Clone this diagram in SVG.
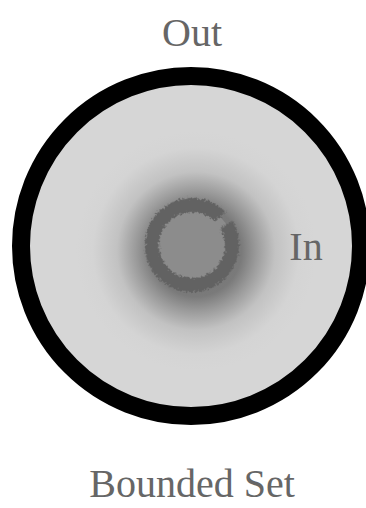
<svg xmlns="http://www.w3.org/2000/svg" width="366" height="508" viewBox="0 0 366 508">
<style>
.lbl{font-family:"Liberation Serif","Times New Roman",serif;font-size:40px;fill:#666;text-anchor:middle}
</style>
<defs>
<radialGradient id="glow" cx="196" cy="251" r="120" gradientUnits="userSpaceOnUse">
<stop offset="0" stop-color="#727272"/>
<stop offset="0.38" stop-color="#7a7a7a"/>
<stop offset="0.5" stop-color="#9a9a9a"/>
<stop offset="0.66" stop-color="#c2c2c2"/>
<stop offset="0.86" stop-color="#d4d4d4"/>
<stop offset="1" stop-color="#d6d6d6"/>
</radialGradient>
<filter id="rough" x="-20%" y="-20%" width="140%" height="140%">
<feTurbulence type="fractalNoise" baseFrequency="0.5" numOctaves="2" seed="5" result="n"/>
<feDisplacementMap in="SourceGraphic" in2="n" scale="7" xChannelSelector="R" yChannelSelector="G"/>
</filter>
</defs>
<g id="bounded-set">
<circle cx="191" cy="246" r="170" fill="url(#glow)" stroke="#000" stroke-width="18"/>
</g>
<g id="core">
<circle cx="192" cy="245" r="40" fill="#8c8c8c"/>
<circle cx="192" cy="245" r="40" fill="none" stroke="#626262" stroke-width="14" stroke-dasharray="241 10" stroke-dashoffset="-5" transform="rotate(-38 192 245)" filter="url(#rough)"/>
</g>
<g id="labels">
<text class="lbl" x="192" y="46">Out</text>
<text class="lbl" x="306" y="260">In</text>
<text class="lbl" x="192" y="497">Bounded Set</text>
</g>
</svg>
